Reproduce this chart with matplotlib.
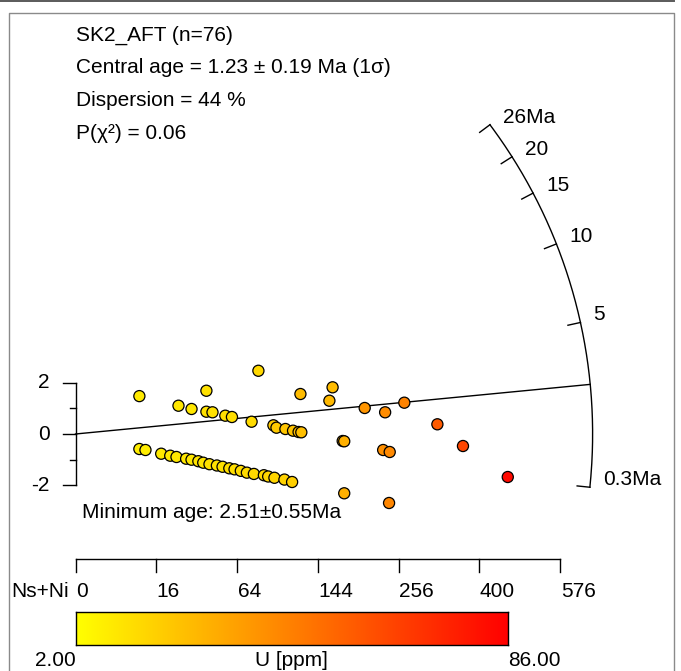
import numpy as np
import matplotlib
matplotlib.use('Agg')
import matplotlib.pyplot as plt
from matplotlib.colors import LinearSegmentedColormap
from matplotlib.lines import Line2D

plt.rcParams['font.family'] = ['Liberation Sans', 'DejaVu Sans']

# ---------------- data ----------------
# Ns+Ni for each grain (x position is sqrt-scaled precision)
ns_ni = [10, 26, 33, 42, 42, 46, 55, 60, 76, 82, 96, 99, 108, 116, 122, 125,
         124, 162, 158, 175, 177, 205, 235, 265, 232, 242, 321, 368, 458, 177, 241,
         10, 12, 18, 22, 25, 30, 33, 37, 40, 44, 49, 53, 58, 62, 67, 72, 78, 87,
         91, 97, 107, 115]
# standardised estimate (y position)
z_score = [1.48, 1.105, 0.977, 1.69, 0.871, 0.848, 0.715, 0.664, 0.48, 2.47, 0.34,
           0.246, 0.195, 0.129, 0.078, 0.066, 1.562, 1.824, 1.30, -0.273, -0.285,
           1.016, 0.848, 1.223, -0.625, -0.703, 0.379, -0.469, -1.68, -2.316, -2.695,
           -0.586, -0.625, -0.770, -0.848, -0.898, -0.965, -1.004, -1.063, -1.121,
           -1.18, -1.23, -1.28, -1.34, -1.38, -1.44, -1.51, -1.56, -1.61, -1.66,
           -1.71, -1.78, -1.875]
# uranium concentration (colour)
u_ppm = [9, 10, 10, 12, 12, 12, 13, 13, 14, 15, 20, 20, 21, 22, 23, 23,
         24, 24, 25, 28, 28, 37, 40, 43, 39, 41, 56, 63, 83, 28, 42,
         8, 8, 9, 9, 10, 10, 10, 11, 11, 12, 12, 12, 13, 13, 14, 14, 15, 15,
         16, 16, 17, 18]

age_ticks = [0.3, 5, 10, 15, 20, 26]
age_tick_labels = ['0.3Ma', '5', '10', '15', '20', '26Ma']
min_age = 2.51
n_ticks = [0, 16, 64, 144, 256, 400, 576]
n_tick_labels = ['0', '16', '64', '144', '256', '400', '576']
z_ticks = [-2, 0, 2]
z_tick_labels = ['-2', '0', '2']
z_minor_ticks = [-1, 1]
u_min, u_max = 2.00, 86.00
header_lines = ['SK2_AFT (n=76)',
                'Central age = 1.23 \u00b1 0.19 Ma (1\u03c3)',
                'Dispersion = 44 %',
                'P(\u03c7\u00b2) = 0.06']
min_age_label = 'Minimum age: 2.51\u00b10.55Ma'
x_axis_title = 'Ns+Ni'
cbar_title = 'U [ppm]'

# ---------------- geometry / style ----------------
W, H = 681, 671
PX = 25.6                 # pixels per plot unit (equal aspect)
OX, OY = 75.5, 434.0      # pixel position of the origin
PREC = 0.789              # plot units per sqrt(Ns+Ni)
R_ARC = 20.2              # radius of the age arc in plot units
FS = 15

def age_slope(t):
    return 3.064 * np.arctan(np.sqrt(0.004 * np.asarray(t, dtype=float))) - 0.2096

def P(xp, yp):
    return ((xp - OX) / PX, (OY - yp) / PX)

cmap = LinearSegmentedColormap.from_list('yr', ['#FFFF00', '#FF0000'])

fig = plt.figure(figsize=(W / 100, H / 100), dpi=100)
ax = fig.add_axes([0, 0, 1, 1])
ax.set_xlim(-OX / PX, (W - OX) / PX)
ax.set_ylim(-(H - OY) / PX, OY / PX)
ax.axis('off')

# frame decoration
fig.add_artist(Line2D([0, 674 / W], [1 - 0.8 / H, 1 - 0.8 / H], transform=fig.transFigure,
                      color='#5a5a5a', lw=1.4))
fig.add_artist(Line2D([8.5 / W, 8.5 / W, 673.5 / W, 673.5 / W],
                      [0, 1 - 12.7 / H, 1 - 12.7 / H, 0], transform=fig.transFigure,
                      color='#8a8a8a', lw=1.0))

# header
for i, line in enumerate(header_lines):
    x, y = P(76, 35 + 32.7 * i)
    ax.text(x, y, line, fontsize=FS, ha='left', va='center')

# z axis
lw = 1.0
ax.plot([0, 0], [min(z_ticks), max(z_ticks)], color='black', lw=lw)
for zt, lab in zip(z_ticks, z_tick_labels):
    ax.plot([-12.7 / PX, 0], [zt, zt], color='black', lw=lw)
    ax.text(-26 / PX, zt, lab, fontsize=FS, ha='right', va='center')
for zt in z_minor_ticks:
    ax.plot([-5.5 / PX, 0], [zt, zt], color='black', lw=lw)

# minimum-age line
th = np.arctan(age_slope(min_age))
ax.plot([0, R_ARC * np.cos(th)], [0, R_ARC * np.sin(th)], color='black', lw=lw, zorder=2)

# age arc
tt = np.linspace(min(age_ticks), max(age_ticks), 400)
tha = np.arctan(age_slope(tt))
ax.plot(R_ARC * np.cos(tha), R_ARC * np.sin(tha), color='black', lw=lw)
for t, lab in zip(age_ticks, age_tick_labels):
    a = np.arctan(age_slope(t))
    x1, y1 = R_ARC * np.cos(a), R_ARC * np.sin(a)
    x0, y0 = (R_ARC - 12.8 / PX) * np.cos(a), (R_ARC - 12.8 / PX) * np.sin(a)
    ax.plot([x0, x1], [y0, y1], color='black', lw=lw)
    ax.annotate(lab, (x1, y1), xytext=(9.4, 5.4), textcoords='offset points',
                fontsize=FS, ha='left', va='center')

# points
xs = PREC * np.sqrt(np.asarray(ns_ni, dtype=float))
ax.scatter(xs, z_score, c=u_ppm, cmap=cmap, vmin=u_min, vmax=u_max, s=64,
           edgecolors='black', linewidths=0.9, zorder=3)

# minimum age label
x, y = P(81.5, 513)
ax.text(x, y, min_age_label, fontsize=FS, ha='left', va='center')

# Ns+Ni axis
ya = (OY - 559.3) / PX
yb = (OY - 571.7) / PX
yl = (OY - 591.7) / PX
xt = PREC * np.sqrt(np.asarray(n_ticks, dtype=float))
ax.plot([xt[0], xt[-1]], [ya, ya], color='black', lw=lw)
for xv, lab in zip(xt, n_tick_labels):
    ax.plot([xv, xv], [ya, yb], color='black', lw=lw)
    ax.text(xv + 0.5 / PX, yl, lab, fontsize=FS, ha='left', va='center')
ax.text(-6.5 / PX, yl, x_axis_title, fontsize=FS, ha='right', va='center')

# colour bar
cb_l, cb_r, cb_t, cb_b = 75.5, 508.3, 611.7, 645.0
cax = fig.add_axes([cb_l / W, (H - cb_b) / H, (cb_r - cb_l) / W, (cb_b - cb_t) / H])
cax.imshow(np.linspace(u_min, u_max, 512)[None, :], cmap=cmap, vmin=u_min, vmax=u_max,
           aspect='auto', extent=[u_min, u_max, 0, 1])
cax.set_xticks([])
cax.set_yticks([])
for s in cax.spines.values():
    s.set_linewidth(1.0)
    s.set_color('black')
fig.text(cb_l / W, 1 - 660 / H, '%.2f' % u_min, fontsize=FS, ha='right', va='center')
fig.text(cb_r / W, 1 - 660 / H, '%.2f' % u_max, fontsize=FS, ha='left', va='center')
fig.text((cb_l + cb_r) / 2 / W, 1 - 660 / H, cbar_title, fontsize=FS, ha='center', va='center')

fig.savefig('out.png', dpi=100)
